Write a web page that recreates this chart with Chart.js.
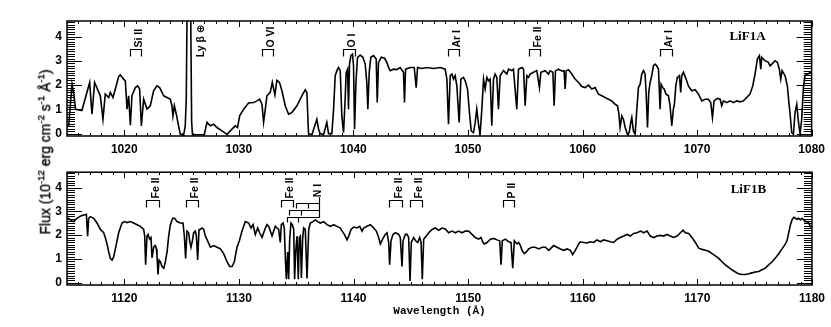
<!DOCTYPE html>
<html>
<head>
<meta charset="utf-8">
<script src="https://cdn.jsdelivr.net/npm/chart.js@4/dist/chart.umd.min.js"></script>
<style>
  body { margin: 0; width: 831px; height: 327px; background: #fff; position: relative; overflow: hidden; }
  canvas { position: absolute; left: 0; }
  #ylab { position: absolute; left: 44px; top: 152px; transform: translate(-50%, -50%) rotate(-90deg);
          white-space: nowrap; font: 14px 'Liberation Sans', Arial, sans-serif; color: #000;
          -webkit-text-stroke: 0.35px #000; }
  #ylab sup { font-size: 9.5px; }
</style>
</head>
<body>
<canvas id="c1" width="831" height="160" style="top:0"></canvas>
<canvas id="c2" width="831" height="167" style="top:160px"></canvas>
<div id="ylab">Flux (10<sup>-12</sup> erg cm<sup>-2</sup> s<sup>-1</sup> Å<sup>-1</sup>)</div>
<script>
// LiF1A segment, wavelength (A) and flux (1e-12 erg/cm2/s/A)
const wlA = [1015.05,1015.15,1015.44,1015.6,1015.75,1016.3,1016.98,1017.18,1017.41,1017.91,1018.14,1018.34,1018.64,1018.78,1019.01,1019.22,1019.51,1019.65,1019.94,1020.09,
  1020.24,1020.38,1020.53,1020.67,1020.96,1021.17,1021.34,1021.49,1021.69,1021.98,1022.27,1022.56,1022.85,1023.09,1023.44,1023.73,1024.02,1024.16,1024.25,1024.37,
  1024.54,1024.74,1024.89,1025.18,1025.32,1025.41,1025.5,1025.62,1025.76,1025.88,1025.95,1026.98,1027.22,1027.51,1027.8,1028.09,1028.53,1028.96,1029.25,1029.69,
  1029.89,1030.07,1030.42,1030.85,1031.29,1031.58,1031.81,1032.02,1032.16,1032.31,1032.45,1032.74,1032.92,1033.15,1033.32,1033.55,1033.76,1034.05,1034.34,1034.63,
  1035.07,1035.5,1035.79,1035.94,1036.08,1036.38,1036.67,1036.81,1036.96,1037.1,1037.39,1037.68,1037.83,1038.12,1038.27,1038.41,1038.56,1038.7,1038.85,1038.99,
  1039.14,1039.28,1039.37,1039.49,1039.57,1039.66,1039.78,1039.92,1040.01,1040.1,1040.22,1040.36,1040.59,1040.83,1041.03,1041.17,1041.26,1041.38,1041.52,1041.76,
  1041.99,1042.08,1042.19,1042.43,1042.72,1042.92,1043.07,1043.21,1043.5,1043.79,1044.08,1044.37,1044.46,1044.55,1044.96,1045.31,1045.48,1045.6,1045.97,1046.41,
  1046.99,1047.57,1048.01,1048.16,1048.3,1048.45,1048.59,1048.74,1048.88,1049.03,1049.23,1049.38,1049.61,1049.76,1049.96,1050.13,1050.28,1050.48,1050.63,1050.77,
  1050.92,1051.06,1051.21,1051.36,1051.5,1051.65,1051.79,1051.94,1052.08,1052.23,1052.37,1052.52,1052.66,1052.81,1053.1,1053.39,1053.54,1053.83,1053.97,1054.26,
  1054.41,1054.7,1054.85,1054.99,1055.14,1055.28,1055.43,1055.72,1056.01,1056.24,1056.36,1056.74,1057.03,1057.17,1057.41,1057.52,1057.64,1057.9,1058.19,1058.39,
  1058.48,1058.57,1058.77,1059.06,1059.35,1059.65,1059.94,1060.23,1060.52,1060.81,1061.1,1061.39,1061.68,1061.97,1062.26,1062.55,1062.84,1063.05,1063.16,1063.28,
  1063.43,1063.57,1063.72,1063.92,1064.07,1064.21,1064.3,1064.44,1064.59,1064.74,1064.88,1065.03,1065.17,1065.32,1065.46,1065.55,1065.67,1065.78,1065.9,1066.04,
  1066.19,1066.33,1066.48,1066.63,1066.77,1066.86,1067.0,1067.12,1067.29,1067.5,1067.64,1067.79,1067.93,1068.02,1068.14,1068.28,1068.46,1068.57,1068.66,1068.81,
  1069.04,1069.24,1069.53,1069.83,1070.12,1070.41,1070.7,1070.99,1071.19,1071.34,1071.48,1071.77,1072.01,1072.15,1072.3,1072.59,1072.88,1073.17,1073.46,1073.75,
  1074.04,1074.33,1074.62,1074.86,1075.06,1075.26,1075.44,1075.56,1075.64,1075.93,1076.22,1076.37,1076.52,1076.81,1077.01,1077.18,1077.3,1077.42,1077.68,1077.88,
  1078.0,1078.12,1078.26,1078.41,1078.55,1078.7,1078.84,1078.99,1079.13,1079.28,1079.42,1079.57,1079.71,1079.86,1080.0];
const fxA = [0.3,0.32,2.04,1.6,1.0,0.95,2.11,0.8,2.11,1.56,0.59,1.63,1.49,1.7,1.49,1.84,2.36,2.42,2.25,2.18,
  1.01,1.56,0.35,1.56,1.9,1.97,1.84,0.32,1.42,1.01,1.15,1.77,1.97,1.9,1.56,1.49,1.42,1.15,0.73,1.15,
  0.8,0.32,-0.03,-0.07,0.32,1.42,6.0,9.0,7.0,0.5,-0.05,-0.05,0.46,0.32,0.39,0.25,0.11,-0.03,0.11,0.32,
  0.25,0.73,1.01,1.26,1.28,1.35,1.42,1.21,0.46,1.01,1.56,1.7,2.11,1.6,2.2,2.11,1.77,1.15,0.8,0.87,
  1.15,1.56,1.81,1.7,0.0,-0.05,0.39,0.59,0.18,0.0,-0.05,0.46,0.0,0.0,1.01,2.39,2.6,2.73,2.6,0.73,
  0.04,1.42,2.53,2.66,1.01,2.87,3.22,3.28,2.8,0.18,2.11,3.15,3.24,3.15,2.87,2.11,1.01,2.53,3.15,3.22,
  3.08,1.28,2.94,3.15,3.11,2.94,2.73,2.6,2.66,2.64,2.73,2.53,1.28,2.66,2.73,2.73,1.9,2.73,2.69,2.73,
  2.69,2.73,2.66,2.25,0.39,2.39,2.46,2.25,2.39,1.97,0.46,2.25,2.32,2.18,1.84,0.87,0.11,0.04,0.46,1.01,
  0.39,-0.03,1.01,2.25,1.84,2.32,2.18,2.25,0.32,2.25,2.46,2.32,1.01,2.39,2.6,2.46,2.66,2.6,2.66,1.01,
  2.66,2.73,2.66,1.15,2.39,2.32,2.46,2.53,2.6,1.9,2.53,2.6,2.46,2.59,2.53,1.15,2.59,2.66,2.59,2.59,
  1.84,2.59,2.64,2.46,2.25,2.11,1.94,1.9,2.0,1.84,1.9,1.63,1.56,1.49,1.42,1.35,1.21,1.15,0.87,0.25,
  0.73,0.59,0.25,-0.03,0.04,0.46,0.66,0.11,-0.03,1.01,1.9,2.04,2.46,2.6,2.46,1.7,0.25,1.7,2.11,2.39,
  2.8,2.87,2.8,2.66,1.01,2.04,1.9,1.84,1.63,1.56,1.15,0.32,1.01,1.21,1.97,2.32,2.39,1.7,2.39,2.53,
  2.25,1.97,1.77,1.81,1.63,1.35,1.42,1.42,1.28,0.66,1.35,1.45,1.42,1.15,1.35,1.28,1.35,1.28,1.35,1.31,
  1.35,1.49,1.63,1.97,2.46,3.08,3.22,2.66,3.15,3.01,2.94,2.8,2.87,3.01,2.94,2.66,2.25,2.6,2.39,1.97,
  1.35,0.8,0.04,-0.03,0.87,1.21,0.52,-0.03,0.59,1.9,2.39,2.46,2.46,2.53,2.5];

// LiF1B segment
const wlB = [1115.0,1115.15,1115.29,1115.58,1115.87,1116.16,1116.45,1116.69,1116.8,1116.89,1117.04,1117.33,1117.62,1117.91,1118.2,1118.34,1118.49,1118.64,1118.78,1118.93,
  1119.07,1119.22,1119.51,1119.8,1120.0,1120.24,1120.53,1120.82,1121.11,1121.4,1121.69,1121.78,1121.86,1121.98,1122.07,1122.21,1122.33,1122.42,1122.56,1122.71,
  1122.8,1122.85,1122.94,1123.03,1123.14,1123.29,1123.44,1123.58,1123.73,1123.87,1124.02,1124.22,1124.39,1124.6,1124.89,1125.12,1125.24,1125.35,1125.47,1125.62,
  1125.7,1125.82,1125.94,1126.05,1126.2,1126.29,1126.4,1126.52,1126.63,1126.78,1126.93,1127.07,1127.27,1127.51,1127.8,1128.09,1128.38,1128.67,1128.96,1129.19,
  1129.4,1129.6,1129.83,1130.04,1130.27,1130.56,1130.85,1131.06,1131.23,1131.43,1131.64,1131.81,1132.02,1132.16,1132.31,1132.45,1132.6,1132.74,1132.89,1133.03,
  1133.18,1133.32,1133.47,1133.61,1133.7,1133.85,1133.96,1134.05,1134.14,1134.25,1134.34,1134.43,1134.54,1134.66,1134.78,1134.86,1134.95,1135.07,1135.18,1135.27,
  1135.36,1135.45,1135.56,1135.65,1135.79,1135.94,1136.09,1136.23,1136.46,1136.67,1136.87,1137.1,1137.39,1137.68,1137.98,1138.27,1138.56,1138.85,1139.01,1139.2,
  1139.43,1139.58,1139.78,1140.01,1140.3,1140.54,1140.74,1140.88,1141.18,1141.47,1141.76,1141.99,1142.19,1142.34,1142.57,1142.77,1142.92,1143.07,1143.15,1143.27,
  1143.44,1143.65,1143.94,1144.08,1144.23,1144.32,1144.52,1144.67,1144.81,1144.93,1145.04,1145.25,1145.42,1145.6,1145.77,1145.89,1146.0,1146.12,1146.35,1146.56,
  1146.85,1147.14,1147.43,1147.72,1148.01,1148.3,1148.59,1148.88,1149.17,1149.46,1149.76,1150.05,1150.34,1150.63,1150.92,1151.12,1151.3,1151.41,1151.65,1151.94,
  1152.23,1152.52,1152.75,1152.87,1152.98,1153.25,1153.54,1153.74,1153.89,1154.03,1154.26,1154.41,1154.56,1154.7,1154.9,1155.08,1155.28,1155.57,1155.86,1156.15,
  1156.45,1156.74,1157.03,1157.46,1157.75,1158.05,1158.34,1158.63,1158.92,1159.12,1159.35,1159.64,1159.79,1160.08,1160.37,1160.66,1160.95,1161.24,1161.54,1161.83,
  1162.12,1162.41,1162.7,1162.99,1163.28,1163.57,1163.86,1164.15,1164.44,1164.74,1165.03,1165.32,1165.61,1165.9,1166.19,1166.48,1166.77,1167.06,1167.35,1167.64,
  1167.93,1168.23,1168.52,1168.75,1168.95,1169.24,1169.53,1169.83,1170.12,1170.41,1170.7,1170.99,1171.28,1171.57,1171.86,1172.15,1172.44,1172.73,1173.02,1173.32,
  1173.61,1173.9,1174.19,1174.48,1174.77,1175.06,1175.35,1175.64,1175.93,1176.22,1176.52,1176.81,1177.1,1177.39,1177.68,1177.82,1177.97,1178.12,1178.26,1178.41,
  1178.55,1178.7,1178.84,1178.99,1179.13,1179.28,1179.42,1179.57,1179.71,1179.86,1180.0];
const fxB = [2.65,2.71,2.64,2.57,2.71,2.8,2.85,2.87,1.96,2.71,2.78,2.71,2.51,2.24,2.1,1.9,1.63,1.29,1.02,0.95,
  1.08,1.42,2.1,2.51,2.57,2.53,2.57,2.51,2.44,2.37,2.24,1.96,0.75,1.96,2.03,1.83,1.9,1.04,1.49,1.56,
  1.42,1.15,0.34,0.95,0.88,0.68,0.61,0.88,1.29,1.96,2.44,2.71,2.71,2.57,2.51,2.51,1.96,1.02,2.17,2.1,
  1.76,1.49,1.76,2.1,2.17,1.96,0.95,2.24,2.24,2.3,2.24,1.96,1.76,1.49,1.56,1.49,1.42,1.22,0.88,0.68,
  0.68,0.88,1.49,1.76,2.17,2.57,2.51,2.3,2.44,2.03,2.3,2.1,1.9,2.1,2.3,2.44,2.37,2.17,1.96,2.17,
  2.37,2.3,2.24,1.69,2.44,2.51,2.3,1.02,0.14,1.29,0.14,1.83,2.51,2.44,2.24,0.14,1.29,1.96,0.14,1.9,
  1.96,0.2,1.83,2.3,2.24,0.18,2.24,2.51,2.57,2.64,2.57,2.51,2.57,2.44,2.37,2.44,2.37,2.3,2.17,2.03,
  1.8,1.96,2.24,2.34,2.3,2.37,2.17,2.3,2.37,2.44,2.3,2.17,1.9,1.63,1.86,2.03,2.1,1.69,0.75,1.76,
  2.03,2.1,2.03,1.9,0.68,1.76,2.03,2.03,1.9,0.07,1.69,1.9,1.76,1.69,1.9,1.69,0.14,1.83,1.96,2.1,
  2.24,2.3,2.2,2.3,2.26,2.1,2.17,2.1,2.17,2.1,2.17,2.17,2.03,1.9,1.83,1.9,1.69,1.63,1.69,1.83,
  1.86,1.8,1.76,0.75,1.76,1.83,1.72,1.69,0.61,1.76,1.63,1.69,1.56,1.36,1.22,1.29,1.42,1.49,1.49,1.42,
  1.49,1.49,1.36,1.56,1.49,1.42,1.36,1.42,1.36,1.18,1.36,1.63,1.72,1.69,1.67,1.72,1.69,1.8,1.72,1.8,
  1.76,1.72,1.69,1.83,1.9,1.96,2.03,1.96,2.07,2.1,2.17,2.1,2.17,1.96,1.9,1.96,1.99,1.96,2.03,1.96,
  1.9,1.96,2.1,2.21,2.1,2.07,1.9,1.69,1.45,1.4,1.36,1.32,1.22,1.13,1.02,0.88,0.75,0.64,0.54,0.45,
  0.37,0.34,0.34,0.37,0.41,0.45,0.47,0.54,0.61,0.75,0.88,1.04,1.22,1.42,1.63,1.76,2.1,2.44,2.64,2.75,
  2.71,2.67,2.71,2.64,2.71,2.64,2.57,2.57,2.51,2.37,2.3];

// line identifications (bracket from lo to hi, in A)
const topIons = ['Si II', 'O VI', 'O I', 'Ar I', 'Fe II', 'Ar I'];
const topLo = [1020.5, 1032.0, 1039.1, 1048.3, 1055.3, 1066.8];
const topHi = [1021.5, 1033.0, 1040.1, 1049.2, 1056.25, 1067.8];
const botIons = ['Fe II', 'Fe II', 'Fe II', 'Fe II', 'Fe II', 'P II'];
const botLo = [1121.9, 1125.4, 1133.7, 1143.1, 1144.9, 1153.0];
const botHi = [1123.0, 1126.4, 1134.7, 1144.2, 1146.0, 1154.0];
// N I multiplet ladder
const nLevel = [3.35, 3.05, 2.78];
const nLegA = [1134.98, 1134.4, 1134.2];
const nLegB = [1136.0, 1135.45, 1135.16];
const nJoin = 1136.95;
// geocoronal Ly beta
const skyLabel = 'Ly \u03b2 \u2295';
const skyAt = 1026.5;

const sansFam = "'Liberation Sans', 'DejaVu Sans', Arial, sans-serif";

// IDL-ish frame: inward ticks on all four sides
const idlFrame = {
  id: 'idlFrame',
  afterDatasetsDraw(chart) {
    const { ctx, chartArea: a } = chart;
    const xs = chart.scales.x, ys = chart.scales.y;
    ctx.save();
    ctx.strokeStyle = '#000';
    ctx.lineWidth = 1;
    ctx.beginPath();
    for (let w = Math.ceil(xs.min); w <= xs.max; w++) {
      const px = Math.round(xs.getPixelForValue(w)) + 0.5;
      const len = w % 10 === 0 ? 6 : 3;
      ctx.moveTo(px, a.bottom); ctx.lineTo(px, a.bottom - len);
      ctx.moveTo(px, a.top); ctx.lineTo(px, a.top + len);
    }
    for (let i = 0; i <= 46; i++) {
      const py = Math.round(ys.getPixelForValue(i / 10)) + 0.5;
      const len = i % 10 === 0 ? 15 : 8;
      ctx.moveTo(a.left, py); ctx.lineTo(a.left + len, py);
      ctx.moveTo(a.right, py); ctx.lineTo(a.right - len, py);
    }
    ctx.stroke();
    ctx.lineWidth = 1.5;
    ctx.strokeRect(a.left, a.top, a.right - a.left, a.bottom - a.top);
    ctx.restore();
  }
};

function upText(ctx, txt, px, py) {
  ctx.save();
  ctx.translate(px, py);
  ctx.rotate(-Math.PI / 2);
  ctx.textAlign = 'left';
  ctx.textBaseline = 'alphabetic';
  ctx.fillText(txt, 0, 0);
  ctx.restore();
}

const lineMarks = {
  id: 'lineMarks',
  afterDatasetsDraw(chart, args, o) {
    const { ctx } = chart;
    const xs = chart.scales.x, ys = chart.scales.y;
    ctx.save();
    ctx.strokeStyle = '#000';
    ctx.fillStyle = '#000';
    ctx.lineWidth = 1.2;
    ctx.font = 'bold 10.5px ' + sansFam;
    const yb = Math.round(ys.getPixelForValue(3.5)) + 0.5;
    o.ions.forEach((name, i) => {
      const x0 = Math.round(xs.getPixelForValue(o.lo[i])) + 0.5;
      const x1 = Math.round(xs.getPixelForValue(o.hi[i])) + 0.5;
      ctx.beginPath();
      ctx.moveTo(x0, yb + 7); ctx.lineTo(x0, yb); ctx.lineTo(x1, yb); ctx.lineTo(x1, yb + 7);
      ctx.stroke();
      upText(ctx, name, (x0 + x1) / 2 + 5.5, yb - 2);
    });
    if (o.sky) {
      upText(ctx, skyLabel, xs.getPixelForValue(skyAt) + 5.5, ys.getPixelForValue(3.15));
    }
    if (o.ladder) {
      const xj = Math.round(xs.getPixelForValue(nJoin)) + 0.5;
      const yt = ys.getPixelForValue(3.6);
      ctx.beginPath();
      ctx.moveTo(xj, yt);
      ctx.lineTo(xj, Math.round(ys.getPixelForValue(nLevel[2])) + 0.5);
      nLevel.forEach((lv, i) => {
        const yl = Math.round(ys.getPixelForValue(lv)) + 0.5;
        const xa = Math.round(xs.getPixelForValue(nLegA[i])) + 0.5;
        const xb = Math.round(xs.getPixelForValue(nLegB[i])) + 0.5;
        ctx.moveTo(xj, yl); ctx.lineTo(xa, yl); ctx.lineTo(xa, yl + 5);
        ctx.moveTo(xb, yl); ctx.lineTo(xb, yl + 5);
      });
      ctx.stroke();
      upText(ctx, 'N I', xs.getPixelForValue(1136.71) + 5.5, yt);
    }
    ctx.font = 'bold 13px "Liberation Serif", "Times New Roman", serif';
    ctx.textAlign = 'center';
    ctx.textBaseline = 'middle';
    ctx.fillText(o.name, xs.getPixelForValue(o.nameAt), ys.getPixelForValue(o.nameY));
    ctx.restore();
  }
};

function makeChart(id, wl, fx, xmin, xmax, marks, opts) {
  const pts = wl.map((w, i) => ({ x: w, y: fx[i] }));
  return new Chart(document.getElementById(id).getContext('2d'), {
    type: 'line',
    data: {
      datasets: [{
        data: pts,
        borderColor: '#000',
        borderWidth: 1.6,
        pointRadius: 0,
        tension: 0,
        fill: false
      }]
    },
    options: {
      responsive: false,
      animation: false,
      layout: { padding: { left: 0, right: 19, top: opts.padTop, bottom: opts.padBottom } },
      plugins: { legend: { display: false }, tooltip: { enabled: false }, lineMarks: marks },
      scales: {
        x: {
          type: 'linear', min: xmin, max: xmax,
          grid: { display: false, drawTicks: false },
          border: { display: false },
          ticks: { stepSize: 10, includeBounds: false, padding: 6, color: '#000', maxRotation: 0,
                   callback: v => String(v),
                   font: { family: sansFam, size: 12, weight: 'bold' } },
          title: { display: opts.xTitle, text: 'Wavelength (\u00c5)', color: '#000', padding: 0,
                   font: { family: "'Liberation Mono', 'DejaVu Sans Mono', monospace", size: 11, weight: 'bold' } },
          afterFit: s => { s.height = opts.xHeight; }
        },
        y: {
          min: -0.1, max: 4.65,
          grid: { display: false, drawTicks: false },
          border: { display: false },
          ticks: { stepSize: 1, includeBounds: false, padding: 5, color: '#000',
                   callback: v => String(v),
                   font: { family: sansFam, size: 12, weight: 'bold' } },
          afterFit: s => { s.width = 67; }
        }
      }
    },
    plugins: [idlFrame, lineMarks]
  });
}

makeChart('c1', wlA, fxA, 1015, 1080,
  { ions: topIons, lo: topLo, hi: topHi, sky: true, ladder: false, name: 'LiF1A', nameAt: 1074.4, nameY: 4.0 },
  { padTop: 21, padBottom: 0, xHeight: 24, xTitle: false });
makeChart('c2', wlB, fxB, 1115, 1180,
  { ions: botIons, lo: botLo, hi: botHi, sky: false, ladder: true, name: 'LiF1B', nameAt: 1174.45, nameY: 3.93 },
  { padTop: 8, padBottom: 9, xHeight: 33, xTitle: true });
</script>
</body>
</html>
